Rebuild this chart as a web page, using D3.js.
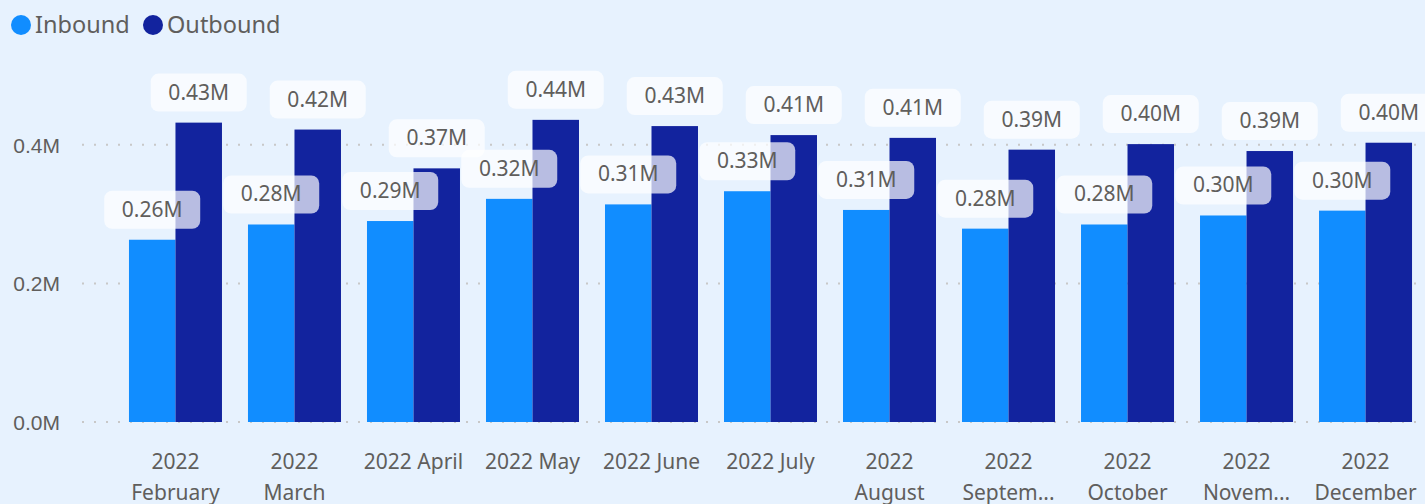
<!DOCTYPE html>
<html>
<head>
<meta charset="utf-8">
<script src="https://cdn.jsdelivr.net/npm/d3@7"></script>
<style>
html,body{margin:0;padding:0;background:#E7F2FE;}
svg{display:block;font-family:"Segoe UI","Noto Sans","Open Sans",sans-serif;}
</style>
</head>
<body>
<svg id="chart" width="1425" height="504"></svg>
<script>
const categories = ["2022 February","2022 March","2022 April","2022 May","2022 June","2022 July","2022 August","2022 September","2022 October","2022 November","2022 December"];
const tickLabels = [["2022","February"],["2022","March"],["2022 April"],["2022 May"],["2022 June"],["2022 July"],["2022","August"],["2022","Septem..."],["2022","October"],["2022","Novem..."],["2022","December"]];
const seriesNames = ["Inbound","Outbound"];
const inbound  = [0.263,0.285,0.290,0.322,0.314,0.333,0.306,0.279,0.285,0.298,0.305];
const outbound = [0.432,0.422,0.366,0.436,0.427,0.414,0.410,0.393,0.401,0.391,0.403];
const yTicks = [0,0.2,0.4];
const colors = ["#118DFF","#12239E"];

const svg = d3.select("#chart");
const textColor = "#605E5C";

const x0 = d3.scaleBand().domain(categories).range([116,1425]).paddingInner(0.2185).paddingOuter(0.109);
const x1 = d3.scaleBand().domain(seriesNames).range([0, x0.bandwidth()]);
const y = d3.scaleLinear().domain([0,0.4]).range([422,144.8]);

// gridlines
const grid = svg.append("g");
yTicks.forEach(t=>{
  grid.append("line").attr("x1",82).attr("x2",1425).attr("y1",y(t)).attr("y2",y(t))
    .attr("stroke","#C8C8C8").attr("stroke-width",2).attr("stroke-dasharray","2,10");
});

// y axis
const yAxis = d3.axisLeft(y).tickValues(yTicks).tickFormat(d=>d.toFixed(1)+"M").tickSize(0).tickPadding(0);
const ya = svg.append("g").attr("transform","translate(60,0)").call(yAxis);
ya.select(".domain").remove();
ya.selectAll("text").attr("fill",textColor).style("font-size","21px").attr("dy","0.35em");

// bars
const data = categories.map((c,i)=>({cat:c, vals:[{k:"Inbound",v:inbound[i]},{k:"Outbound",v:outbound[i]}]}));
const groups = svg.append("g").selectAll("g").data(data).join("g")
  .attr("transform",d=>`translate(${x0(d.cat)},0)`);
groups.selectAll("rect").data(d=>d.vals).join("rect")
  .attr("x",d=>x1(d.k)).attr("width",x1.bandwidth())
  .attr("y",d=>y(d.v)).attr("height",d=>y(0)-y(d.v))
  .attr("fill",(d,i)=>colors[i]);

// labels
const lg = svg.append("g").selectAll("g").data(data).join("g")
  .attr("transform",d=>`translate(${x0(d.cat)},0)`);
const lab = lg.selectAll("g").data(d=>d.vals).join("g")
  .attr("transform",d=>`translate(${x1(d.k)+x1.bandwidth()/2},${y(d.v)-11})`);
lab.append("rect").attr("x",-48).attr("y",-38).attr("width",96).attr("height",38).attr("rx",8)
  .attr("fill","#FFFFFF").attr("fill-opacity",0.7);
lab.append("text").attr("text-anchor","middle").attr("y",-12).attr("fill",textColor)
  .style("font-size","21px").text(d=>d.v.toFixed(2)+"M");

// x axis labels
const xa = svg.append("g").selectAll("text").data(categories).join("text")
  .attr("text-anchor","middle").attr("fill",textColor).style("font-size","21px")
  .attr("x",c=>x0(c)+x0.bandwidth()/2).attr("y",469);
xa.each(function(c,i){
  const t = d3.select(this);
  tickLabels[i].forEach((line,j)=>{
    t.append("tspan").attr("x",x0(c)+x0.bandwidth()/2).attr("dy",j===0?0:31).text(line);
  });
});

// legend
const leg = svg.append("g");
const legX = [21,153];
seriesNames.forEach((s,i)=>{
  leg.append("circle").attr("cx",legX[i]).attr("cy",25).attr("r",10).attr("fill",colors[i]);
  leg.append("text").attr("x",legX[i]+14).attr("y",33).attr("fill",textColor)
    .style("font-size","23.5px").text(s);
});
</script>
</body>
</html>
